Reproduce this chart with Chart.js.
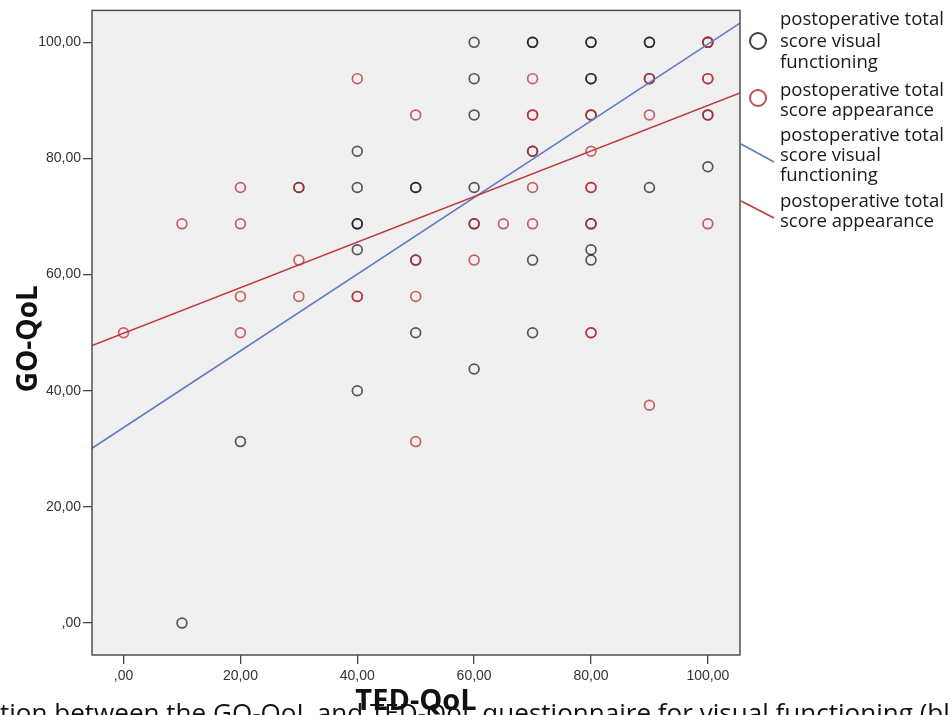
<!DOCTYPE html>
<html>
<head>
<meta charset="utf-8">
<script src="https://cdn.jsdelivr.net/npm/chart.js@4/dist/chart.umd.min.js"></script>
<style>
  html, body { margin: 0; padding: 0; background: #ffffff; }
  #wrap { position: relative; width: 952px; height: 715px; overflow: hidden; }
  canvas { display: block; }
</style>
</head>
<body>
<div id="wrap"><canvas id="chart" width="952" height="715"></canvas></div>
<script>
// Postoperative total score, visual functioning: TED-QoL (x) against GO-QoL (y)
const tedVisual = [10, 20, 30, 40, 40, 40, 40, 40, 40, 50, 50, 50, 50,
  60, 60, 60, 60, 60, 60, 70, 70, 70, 70, 70,
  80, 80, 80, 80, 80, 80, 80, 80, 90, 90, 90, 90, 100, 100, 100];
const goVisual = [0, 31.25, 75, 81.25, 75, 68.75, 68.75, 64.29, 40, 75, 75, 62.5, 50,
  100, 93.75, 87.5, 75, 68.75, 43.75, 100, 100, 81.25, 62.5, 50,
  100, 100, 93.75, 93.75, 87.5, 68.75, 64.29, 62.5, 100, 100, 93.75, 75, 100, 87.5, 78.57];

// Postoperative total score, appearance: TED-QoL (x) against GO-QoL (y)
const tedAppearance = [0, 10, 20, 20, 20, 20, 30, 30, 30, 40, 40, 40,
  50, 50, 50, 50, 60, 60, 65, 70, 70, 70, 70, 70, 70,
  80, 80, 80, 80, 80, 80, 80, 90, 90, 90, 100, 100, 100, 100, 100, 100];
const goAppearance = [50, 68.75, 75, 68.75, 56.25, 50, 75, 62.5, 56.25, 93.75, 56.25, 56.25,
  87.5, 62.5, 56.25, 31.25, 68.75, 62.5, 68.75, 93.75, 87.5, 87.5, 81.25, 75, 68.75,
  87.5, 81.25, 75, 75, 68.75, 50, 50, 93.75, 87.5, 37.5, 100, 100, 93.75, 93.75, 87.5, 68.75];

// Linear fit lines, taken at the two ends of the x axis
const fitVisualX = [-5.4, 105.5];
const fitVisualY = [30.1, 103.3];
const fitAppearanceX = [-5.4, 105.5];
const fitAppearanceY = [47.8, 91.3];

// Axis ranges and ticks
const xRange = [-5.4, 105.5];
const yRange = [-5.5, 105.5];
const tickValues = [0, 20, 40, 60, 80, 100];
const tickLabels = [',00', '20,00', '40,00', '60,00', '80,00', '100,00'];

// Texts
const xTitle = 'TED-QoL';
const yTitle = 'GO-QoL';
const legendVisual = ['postoperative total', 'score visual', 'functioning'];
const legendAppearance = ['postoperative total', 'score appearance'];
const captionText = 'tion between the GO-QoL and TED-QoL questionnaire for visual functioning (bl';

const BLACK = 'rgba(25, 25, 25, 0.72)';
const RED = 'rgba(185, 35, 45, 0.72)';
const BLUE_LINE = '#5f78c8';
const RED_LINE = '#c0393f';

const toPoints = (xs, ys) => xs.map((x, i) => ({ x: x, y: ys[i] }));
const tickLabel = v => { const i = tickValues.indexOf(v); return i >= 0 ? tickLabels[i] : ''; };

// Grey plot background with a frame around it
const plotFrame = {
  id: 'plotFrame',
  beforeDatasetsDraw(chart) {
    const a = chart.chartArea, ctx = chart.ctx;
    ctx.save();
    ctx.fillStyle = '#f0f0f0';
    ctx.fillRect(a.left, a.top, a.right - a.left, a.bottom - a.top);
    ctx.restore();
  },
  afterDraw(chart) {
    const a = chart.chartArea, ctx = chart.ctx;
    ctx.save();
    ctx.strokeStyle = '#505050';
    ctx.lineWidth = 1.5;
    ctx.strokeRect(a.left, a.top, a.right - a.left, a.bottom - a.top);
    ctx.restore();
  }
};

// Axis titles, legend and the caption line under the figure
const annotations = {
  id: 'annotations',
  afterDraw(chart) {
    const ctx = chart.ctx, a = chart.chartArea;
    ctx.save();
    ctx.fillStyle = '#111111';

    // y axis title
    ctx.font = 'bold 28px "Open Sans"';
    ctx.save();
    ctx.translate(37, (a.top + a.bottom) / 2 + 6);
    ctx.rotate(-Math.PI / 2);
    ctx.textAlign = 'center';
    ctx.textBaseline = 'alphabetic';
    ctx.fillText(yTitle, 0, 0);
    ctx.restore();

    // x axis title
    ctx.font = 'bold 29px "Open Sans"';
    ctx.textAlign = 'center';
    ctx.textBaseline = 'alphabetic';
    ctx.fillText(xTitle, (a.left + a.right) / 2, 710);

    // legend
    const lx = 780;
    ctx.font = '16px "Open Sans"';
    const w = ctx.measureText(legendVisual[0]).width;
    const fs = 16 * 164 / w;
    ctx.font = fs.toFixed(2) + 'px "Open Sans"';
    ctx.fillStyle = '#1a1a1a';
    ctx.textAlign = 'left';
    ctx.textBaseline = 'middle';
    const groups = [
      { lines: legendVisual, ys: [20, 42, 63] },
      { lines: legendAppearance, ys: [91, 111] },
      { lines: legendVisual, ys: [136, 156, 176] },
      { lines: legendAppearance, ys: [202, 222] }
    ];
    groups.forEach(g => g.lines.forEach((t, i) => ctx.fillText(t, lx, g.ys[i])));

    ctx.lineWidth = 2;
    ctx.strokeStyle = 'rgba(30,30,30,0.85)';
    ctx.beginPath(); ctx.arc(758, 41, 8, 0, Math.PI * 2); ctx.stroke();
    ctx.strokeStyle = 'rgba(192,57,63,0.9)';
    ctx.beginPath(); ctx.arc(758, 98, 8, 0, Math.PI * 2); ctx.stroke();

    ctx.lineWidth = 1.5;
    ctx.strokeStyle = BLUE_LINE;
    ctx.beginPath(); ctx.moveTo(741, 144); ctx.lineTo(774, 162); ctx.stroke();
    ctx.strokeStyle = RED_LINE;
    ctx.beginPath(); ctx.moveTo(741, 201); ctx.lineTo(774, 218); ctx.stroke();

    // caption line, cut by the bottom edge of the figure
    ctx.font = '24px "Open Sans"';
    const cw = ctx.measureText(captionText).width;
    ctx.font = (24 * 950 / cw).toFixed(2) + 'px "Open Sans"';
    ctx.fillStyle = '#111111';
    ctx.textAlign = 'left';
    ctx.textBaseline = 'alphabetic';
    ctx.fillText(captionText, 0, 722);

    ctx.restore();
  }
};

const axisCommon = {
  type: 'linear',
  border: { display: false },
  grid: { drawOnChartArea: false, drawTicks: true, tickLength: 9, color: '#444444', lineWidth: 1.3 },
  ticks: {
    color: '#333333',
    font: { family: '"Liberation Sans", Arial, sans-serif', size: 14 },
    callback: v => tickLabel(v)
  },
  afterBuildTicks: s => { s.ticks = tickValues.map(v => ({ value: v })); }
};

new Chart(document.getElementById('chart'), {
  type: 'scatter',
  data: {
    datasets: [
      {
        label: 'fit appearance',
        data: toPoints(fitAppearanceX, fitAppearanceY),
        showLine: true, borderColor: RED_LINE, borderWidth: 1.5,
        pointRadius: 0, fill: false, order: 1
      },
      {
        label: 'fit visual functioning',
        data: toPoints(fitVisualX, fitVisualY),
        showLine: true, borderColor: BLUE_LINE, borderWidth: 1.5,
        pointRadius: 0, fill: false, order: 2
      },
      {
        label: 'postoperative total score appearance',
        data: toPoints(tedAppearance, goAppearance),
        pointStyle: 'circle', pointRadius: 4.9, borderWidth: 1.7,
        borderColor: RED, backgroundColor: 'rgba(0,0,0,0)', order: 3
      },
      {
        label: 'postoperative total score visual functioning',
        data: toPoints(tedVisual, goVisual),
        pointStyle: 'circle', pointRadius: 4.9, borderWidth: 1.7,
        borderColor: BLACK, backgroundColor: 'rgba(0,0,0,0)', order: 4
      }
    ]
  },
  options: {
    responsive: false,
    animation: false,
    devicePixelRatio: 1,
    layout: { padding: { top: 9, right: 212, left: 0, bottom: 0 } },
    plugins: { legend: { display: false }, tooltip: { enabled: false } },
    scales: {
      x: Object.assign({}, axisCommon, {
        min: xRange[0], max: xRange[1],
        ticks: Object.assign({}, axisCommon.ticks, { padding: 4, maxRotation: 0, autoSkip: false }),
        afterFit: s => { s.height = 60; }
      }),
      y: Object.assign({}, axisCommon, {
        min: yRange[0], max: yRange[1],
        ticks: Object.assign({}, axisCommon.ticks, { padding: 2, autoSkip: false }),
        afterFit: s => { s.width = 92; }
      })
    }
  },
  plugins: [plotFrame, annotations]
});
</script>
</body>
</html>
